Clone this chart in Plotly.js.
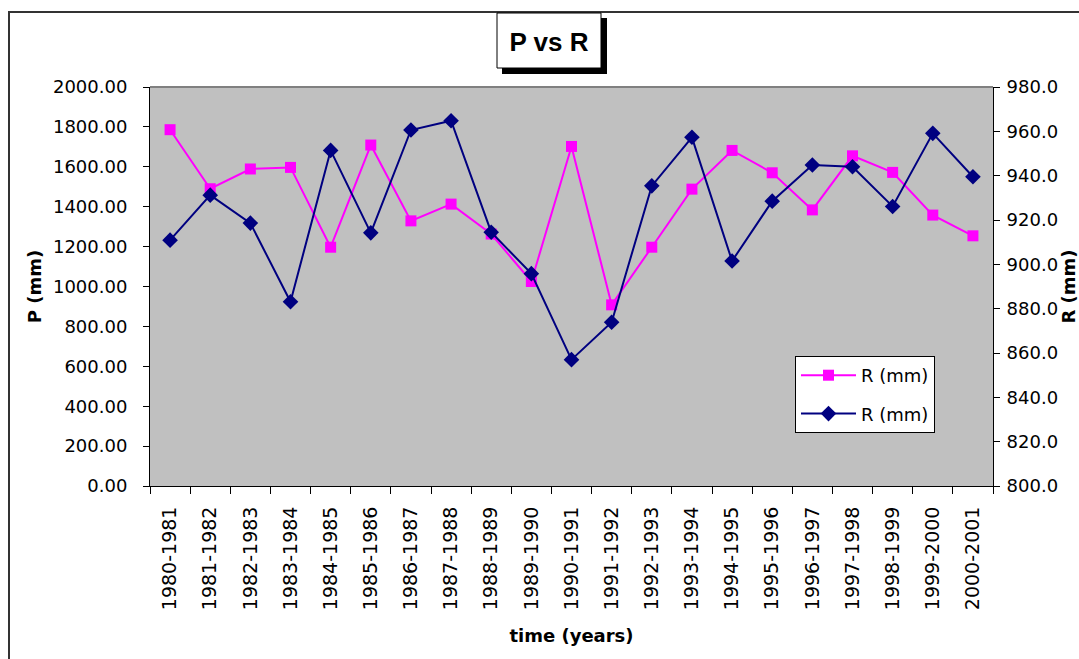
<!DOCTYPE html>
<html>
<head>
<meta charset="utf-8">
<script src="https://cdn.plot.ly/plotly-3.0.1.min.js"></script>
<style>
  html, body { margin: 0; padding: 0; background: #ffffff; }
  #chart { width: 1079px; height: 659px; }
</style>
</head>
<body>
<div id="chart"></div>
<script>
// ---- data ----
const years = [
  "1980-1981", "1981-1982", "1982-1983", "1983-1984", "1984-1985", "1985-1986",
  "1986-1987", "1987-1988", "1988-1989", "1989-1990", "1990-1991", "1991-1992",
  "1992-1993", "1993-1994", "1994-1995", "1995-1996", "1996-1997", "1997-1998",
  "1998-1999", "1999-2000", "2000-2001"
];
// pink series, plotted on the left axis (P)
const pValues = [
  1786, 1490, 1589, 1597, 1197, 1709, 1329, 1413, 1263, 1025, 1702,
  908, 1197, 1488, 1682, 1570, 1384, 1655, 1572, 1358, 1254
];
// navy series, plotted on the right axis (R)
const rValues = [
  910.9, 931.2, 918.6, 883.1, 951.4, 914.2, 960.6, 964.8, 914.5, 895.8, 857.0,
  873.9, 935.4, 957.3, 901.5, 928.5, 944.8, 944.0, 926.1, 959.1, 939.5
];
const seriesNames = ["R (mm)", "R (mm)"];
const chartTitle = "P vs R";
const xTitle = "time (years)";
const yTitle = "P (mm)";
const y2Title = "R (mm)";

// ---- plot geometry helpers (plot area in pixels) ----
const L = 150, R = 993, T = 87, B = 486;
const px = x => (x - L) / (R - L);
const py = y => (B - y) / (B - T);

const traces = [
  {
    x: years, y: pValues, name: seriesNames[0], type: "scatter", mode: "lines+markers",
    yaxis: "y", legendgroup: "a",
    line: { color: "#FF00FF", width: 2 },
    marker: { symbol: "square", size: 11, color: "#FF00FF" }
  },
  {
    x: years, y: rValues, name: seriesNames[1], type: "scatter", mode: "lines+markers",
    yaxis: "y2", legendgroup: "b",
    line: { color: "#000080", width: 2 },
    marker: { symbol: "diamond", size: 12, color: "#000080" }
  }
];

const tickFont = { family: "DejaVu Sans", size: 18, color: "#000000" };
const titleFont = { family: "DejaVu Sans", size: 18, color: "#000000", weight: "bold" };

const layout = {
  width: 1079, height: 659,
  paper_bgcolor: "#ffffff",
  plot_bgcolor: "#C0C0C0",
  margin: { l: L, r: 1079 - R, t: T, b: 659 - B, pad: 0 },
  showlegend: true,
  title: {
    text: "<b>" + chartTitle + "</b>",
    font: { family: "Liberation Sans", size: 26, color: "#000000" },
    x: 549 / 1079, xanchor: "center", xref: "container",
    y: 1 - 42 / 659, yanchor: "middle", yref: "container"
  },
  xaxis: {
    type: "category",
    tickson: "boundaries",
    ticks: "outside", ticklen: 7, tickcolor: "#000000", tickwidth: 1,
    tickangle: -90,
    tickfont: { family: "DejaVu Sans", size: 19, color: "#000000" },
    ticklabelstandoff: 12,
    showline: true, linecolor: "#000000", linewidth: 1,
    showgrid: false, zeroline: false,
    range: [-0.5, years.length - 0.5],
    automargin: false,
    title: { text: xTitle, font: titleFont, standoff: 20 }
  },
  yaxis: {
    range: [0, 2000], dtick: 200, tick0: 0, tickformat: ".2f",
    ticks: "outside", ticklen: 6, tickcolor: "#000000",
    tickfont: tickFont,
    ticklabelstandoff: 12,
    showline: true, linecolor: "#000000", linewidth: 1,
    showgrid: false, zeroline: false,
    automargin: false,
    title: { text: yTitle, font: titleFont, standoff: 6 }
  },
  yaxis2: {
    overlaying: "y", side: "right",
    range: [800, 980], dtick: 20, tick0: 800, tickformat: ".1f",
    ticks: "outside", ticklen: 6, tickcolor: "#000000",
    tickfont: tickFont,
    ticklabelstandoff: 3,
    showline: true, linecolor: "#000000", linewidth: 1,
    showgrid: false, zeroline: false,
    automargin: false,
    title: { text: y2Title, font: titleFont, standoff: 10 }
  },
  legend: {
    x: px(795), y: py(356), xanchor: "left", yanchor: "top",
    bgcolor: "#ffffff", bordercolor: "#000000", borderwidth: 1,
    font: { family: "DejaVu Sans", size: 18, color: "#000000" },
    itemwidth: 55, tracegroupgap: 12, traceorder: "grouped"
  },
  shapes: [
    // outer chart frame
    { type: "rect", xref: "paper", yref: "paper",
      x0: px(9), x1: px(1090), y0: py(680), y1: py(12),
      line: { color: "#333333", width: 2 }, fillcolor: "rgba(0,0,0,0)", layer: "above" },
    // plot area top border
    { type: "line", xref: "paper", yref: "paper",
      x0: 0, x1: 1, y0: 1, y1: 1,
      line: { color: "#808080", width: 2 }, layer: "above" },
    // title box shadow: right strip
    { type: "rect", xref: "paper", yref: "paper",
      x0: px(601), x1: px(607), y0: py(74), y1: py(18),
      line: { width: 0 }, fillcolor: "#000000", layer: "above" },
    // title box shadow: bottom strip
    { type: "rect", xref: "paper", yref: "paper",
      x0: px(502), x1: px(607), y0: py(74), y1: py(68),
      line: { width: 0 }, fillcolor: "#000000", layer: "above" },
    // title box outline
    { type: "rect", xref: "paper", yref: "paper",
      x0: px(497), x1: px(601), y0: py(68), y1: py(13),
      line: { color: "#000000", width: 1 }, fillcolor: "rgba(0,0,0,0)", layer: "above" }
  ]
};

Plotly.newPlot("chart", traces, layout, { displayModeBar: false, staticPlot: true });
</script>
</body>
</html>
